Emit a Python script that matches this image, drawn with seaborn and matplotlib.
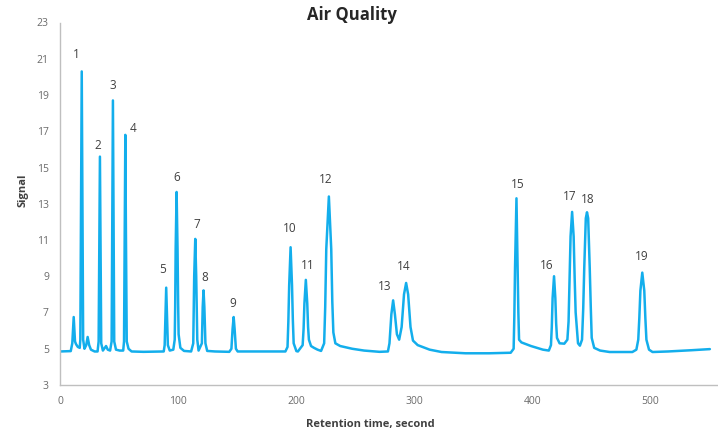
import matplotlib
matplotlib.use('Agg')
import matplotlib.pyplot as plt
import seaborn as sns
import pandas as pd

# Chromatogram trace (retention time in s, signal)
retention_time = [
    0, 9.1, 10.4, 11.6, 12.7, 13.6, 15.1, 16.7,
    17.2, 17.8, 18.4, 19.0, 19.6, 20.7, 22.2, 23.4, 24.7, 26.2, 29.3, 31.8,
    32.7, 33.3, 33.8, 34.3, 34.9, 36.3, 39.0, 40.4, 42.4,
    43.7, 44.3, 44.8, 45.3, 45.9, 47.4, 50.5, 53.5,
    54.2, 54.8, 55.3, 55.8, 56.5, 58.0, 60.6, 70.7, 87.8,
    88.6, 89.3, 89.9, 90.5, 91.3, 92.9, 95.9,
    97.1, 97.5, 97.9, 98.7, 99.5, 100.0, 100.4, 101.9, 105.0, 111.0,
    112.8, 113.6, 114.5, 115.3, 116.2, 117.3,
    120.1, 120.8, 121.5, 122.2, 123.1, 124.6, 131.2, 143.3,
    145.1, 146.1, 147.0, 147.8, 148.9, 150.4, 171.6, 190.8,
    192.6, 193.3, 194.0, 195.2, 196.4, 197.1, 197.8, 200.1, 201.4,
    205.4, 206.2, 206.9, 208.1, 209.3, 210.0, 210.7, 212.5, 215.0, 218.0, 221.0,
    223.6, 224.5, 225.4, 227.6, 229.6, 230.5, 231.4, 233.1, 237.2, 247.3, 257.4, 270.5, 277.6,
    278.9, 280.5, 282.0, 283.5, 285.2, 287.1,
    289.2, 291.2, 293.0, 294.7, 296.7, 298.8, 302.8, 312.9, 323.0, 343.2, 363.3, 381.5,
    384.0, 384.6, 385.2, 386.4, 387.4, 388.0, 388.6, 390.6, 398.7, 408.8, 413.8,
    415.6, 416.3, 417.0, 418.2, 419.3, 420.0, 420.7, 422.9, 426.9, 429.5,
    430.5, 431.3, 432.2, 433.5, 434.8, 435.7, 436.5, 438.5, 440.1,
    441.9, 442.9, 443.8, 445.1, 446.1, 447.1, 448.4, 449.3, 450.1, 452.2, 457.2, 465.3, 484.5, 487.9,
    489.5, 490.4, 491.3, 492.9, 494.6, 495.5, 496.4, 498.6, 501.6, 514.7, 534.9, 550.1,
]
signal = [
    4.85, 4.87, 5.3, 6.75, 5.4, 5.25, 5.1, 5.05,
    5.5, 12.5, 20.3, 12.5, 5.5, 5.0, 5.2, 5.65, 5.2, 4.95, 4.85, 4.85,
    5.4, 11.0, 15.6, 11.0, 5.3, 4.9, 5.15, 4.95, 4.9,
    5.4, 12.5, 18.7, 12.5, 5.4, 4.95, 4.9, 4.9,
    5.4, 11.5, 16.8, 11.5, 5.4, 5.0, 4.85, 4.83, 4.85,
    5.2, 7.0, 8.37, 7.0, 5.2, 4.9, 4.95,
    5.5, 7.3, 10.5, 13.65, 10.5, 7.5, 5.8, 5.05, 4.88, 4.85,
    5.3, 9.0, 11.06, 9.0, 5.5, 4.9,
    5.3, 7.3, 8.22, 7.3, 5.3, 4.88, 4.85, 4.83,
    5.0, 6.1, 6.75, 6.1, 5.0, 4.85, 4.85, 4.85,
    5.1, 6.5, 8.5, 10.6, 8.5, 6.6, 5.3, 4.87, 4.85,
    5.2, 6.1, 7.5, 8.8, 7.5, 6.2, 5.5, 5.15, 5.05, 4.95, 4.88,
    5.3, 7.3, 10.5, 13.4, 10.5, 7.6, 5.9, 5.3, 5.15, 5.0, 4.9, 4.83, 4.85,
    5.3, 6.9, 7.67, 6.9, 5.8, 5.5,
    6.2, 8.0, 8.63, 8.0, 6.2, 5.45, 5.2, 4.95, 4.82, 4.75, 4.75, 4.78,
    5.0, 6.8, 9.5, 13.3, 9.5, 7.0, 5.5, 5.35, 5.15, 4.95, 4.9,
    5.2, 6.2, 7.8, 9.0, 7.8, 6.4, 5.6, 5.3, 5.28, 5.5,
    6.5, 8.6, 11.2, 12.55, 11.2, 8.8, 7.0, 5.3, 5.17,
    5.5, 7.2, 9.5, 12.2, 12.53, 12.2, 9.5, 7.3, 5.6, 5.05, 4.9, 4.82, 4.82, 4.95,
    5.5, 6.7, 8.2, 9.2, 8.2, 6.7, 5.5, 4.95, 4.82, 4.85, 4.92, 4.98,
]

# Peak number labels (text position)
peak_labels = [str(i) for i in range(1, 20)]
label_time = [13.5, 31.6, 44.6, 62.1, 86.6, 98.7, 115.7, 122.6, 146.1, 194.6,
              210.0, 225.1, 275.2, 291.0, 387.5, 412.0, 431.2, 447.0, 492.1]
label_signal = [21.24, 16.23, 19.53, 17.14, 9.36, 14.46, 11.85, 8.94, 7.52, 11.63,
                9.6, 14.34, 8.44, 9.55, 14.06, 9.62, 13.41, 13.23, 10.1]

y_ticks = list(range(3, 24, 2))
x_ticks = [0, 100, 200, 300, 400, 500]

trace = pd.DataFrame({'time': retention_time, 'signal': signal})

sns.set_style('white')
plt.rcParams['font.family'] = ['Open Sans', 'DejaVu Sans']

fig = plt.figure(figsize=(7.18, 4.33), dpi=100)
ax = fig.add_axes([60 / 718, 1 - 385 / 433, 1 - 60 / 718, (385 - 22.5) / 433])

sns.lineplot(data=trace, x='time', y='signal', ax=ax, color='#13AEEC',
             linewidth=1.8, estimator=None, sort=False)

for lab, t, s in zip(peak_labels, label_time, label_signal):
    ax.text(t, s, lab, ha='center', va='center', fontsize=8.5, color='#404040')

ax.set_xlim(0, 557)
ax.set_ylim(3, 23)
ax.set_xticks(x_ticks)
ax.set_yticks(y_ticks)
ax.tick_params(axis='both', length=0, labelsize=7.5, colors='#6B6B6B', pad=8)

for side in ['top', 'right']:
    ax.spines[side].set_visible(False)
for side in ['left', 'bottom']:
    ax.spines[side].set_color('#BFBFBF')
    ax.spines[side].set_linewidth(1)

ax.set_xlabel('')
ax.set_ylabel('')
fig.text(370 / 718, 1 - 425 / 433, 'Retention time, second', ha='center', va='center',
         fontsize=8, fontweight='bold', color='#404040')
fig.text(23 / 718, 1 - 190 / 433, 'Signal', ha='center', va='center', rotation=90,
         fontsize=8, fontweight='bold', color='#404040')
fig.text(352 / 718, 1 - 15 / 433, 'Air Quality', ha='center', va='center',
         fontsize=12, fontweight='bold', color='#262626')

fig.savefig('out.png', dpi=100)
